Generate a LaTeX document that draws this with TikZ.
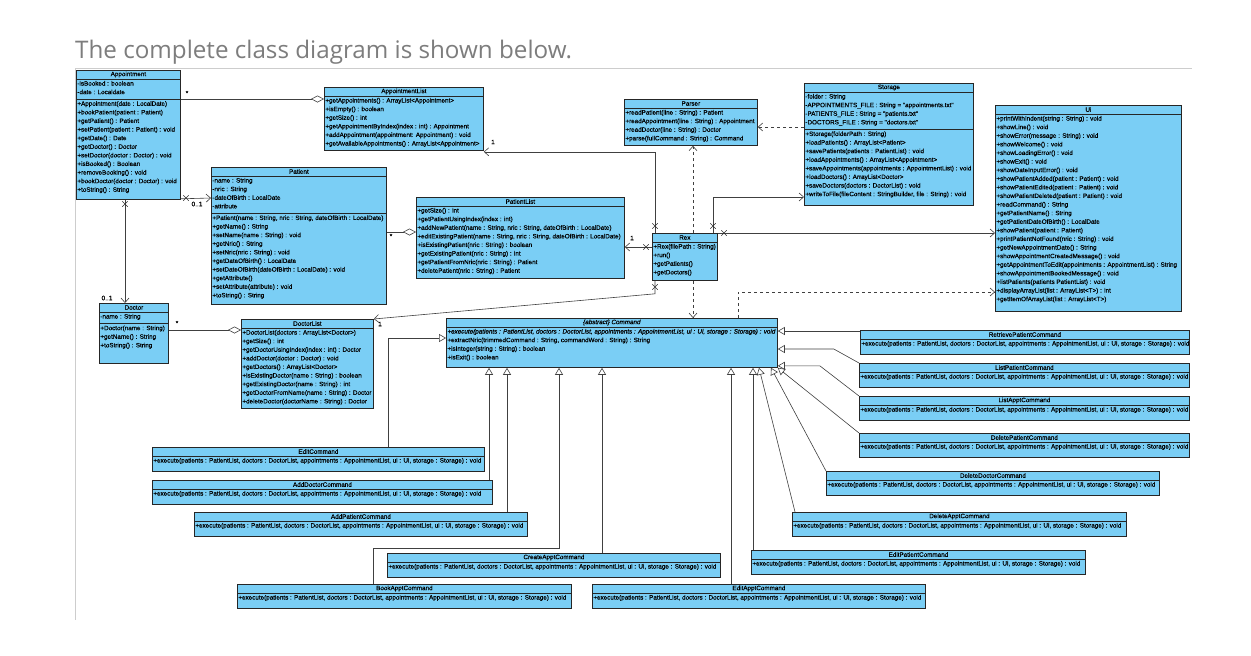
\documentclass[tikz,border=0pt]{standalone}
\usepackage{fontspec}
\setmainfont{Liberation Sans}
\newfontfamily\umlfont{Liberation Sans}[FakeBold=0.35]
\newfontfamily\headfont{Open Sans}
\usetikzlibrary{positioning, arrows.meta, shapes.misc}

\definecolor{classblue}{RGB}{122,206,245}
\definecolor{headgray}{RGB}{125,125,125}
\definecolor{rulegray}{RGB}{205,205,205}

\tikzset{
  classbox/.style={draw=black!85, fill=classblue, line width=0.8pt, anchor=north west, inner sep=0pt},
  classsep/.style={draw=black!85, line width=0.6pt},
  classname/.style={inner sep=0pt, font=\umlfont\fontsize{6.3}{8.5}\selectfont},
  members/.style={anchor=north west, align=left, inner xsep=1.2pt, inner ysep=1.8pt, font=\umlfont\fontsize{6.3}{8.6}\selectfont},
  link/.style={draw=black!75, line width=0.6pt},
  assoc/.style={link, -{Straight Barb[length=4.5pt, width=8pt]}},
  dep/.style={link, dashed, -{Straight Barb[length=4.5pt, width=8pt]}},
  aggr/.style={link, -{Diamond[open, length=13pt, width=7pt]}},
  inherit/.style={link, -{Triangle[open, length=7pt, width=8pt]}},
  navx/.style={cross out, draw=black!80, line width=0.5pt, minimum size=5pt, inner sep=0pt},
  mult/.style={inner sep=0pt, font=\umlfont\fontsize{6.5}{7}\selectfont},
  pagetitle/.style={anchor=base west, inner sep=0pt, text=headgray, font=\headfont\fontsize{24.2}{28}\selectfont},
  pagerule/.style={draw=rulegray, line width=0.8pt}
}

\newcommand{\umlclass}[9]{%
  \node[classbox, minimum width=#4pt, minimum height=#5pt] (#1) at (#2,#3) {};
  \node[classname] (#1-name) at ([yshift=-4.5pt]#1.north) {#6};
  \draw[classsep] ([yshift=-9pt]#1.north west) -- ([yshift=-9pt]#1.north east);
  \ifnum#7>0
    \node[members] (#1-attr) at ([yshift=-9pt]#1.north west) {#8};
    \draw[classsep] ([yshift={-(12+#7*8.6)*1pt}]#1.north west) -- ([yshift={-(12+#7*8.6)*1pt}]#1.north east);
    \node[members] (#1-ops) at ([yshift={-(12+#7*8.6)*1pt}]#1.north west) {#9};
  \else
    \node[members] (#1-ops) at ([yshift=-9pt]#1.north west) {#9};
  \fi
}
\newcommand{\execsig}{+execute(patients : PatientList, doctors : DoctorList, appointments : AppointmentList, ui : Ui, storage : Storage) : void}
\newcommand{\cmdclass}[5]{\umlclass{#1}{#2}{#3}{#4}{24}{#5}{0}{}{\execsig}}

\begin{document}
\begin{tikzpicture}[x=1pt, y=-1pt]
  \fill[white] (0,0) rectangle (1251,656);
  \useasboundingbox (0,0) rectangle (1251,656);
  \node[pagetitle] (heading) at (75,58) {The complete class diagram is shown below.};
  \draw[pagerule] (75,68) -- (1192,68);
  \draw[pagerule] (75,68) -- (75,620);

  \umlclass{appointment}{76}{70}{104}{129}{Appointment}{2}
    {-isBooked : boolean\\-date : Localdate}
    {+Appointment(date : LocalDate)\\+bookPatient(patient : Patient)\\+getPatient() : Patient\\+setPatient(patient : Patient) : void\\+getDate() : Date\\+getDoctor() : Doctor\\+setDoctor(doctor : Doctor) : void\\+isBooked() : Boolean\\+removeBooking() : void\\+bookDoctor(doctor : Doctor) : void\\+toString() : String}
  \umlclass{applist}{324}{87}{159}{63}{AppointmentList}{0}{}
    {+getAppointments() : ArrayList<Appointment>\\+isEmpty() : boolean\\+getSize() : int\\+getAppointmentByIndex(index : int) : Appointment\\+addAppointment(appointment: Appointment) : void\\+getAvailableAppointments() : ArrayList<Appointment>}
  \umlclass{patient}{211}{167}{175}{137}{Patient}{4}
    {-name : String\\-nric : String\\-dateOfBirth : LocalDate\\-attribute}
    {+Patient(name : String, nric : String, dateOfBirth : LocalDate)\\+getName() : String\\+setName(name : String) : void\\+getNric() : String\\+setNric(nric : String) : void\\+getDateOfBirth() : LocalDate\\+setDateOfBirth(dateOfBirth : LocalDate) : void\\+getAttribute()\\+setAttribute(attribute) : void\\+toString() : String}
  \umlclass{patientlist}{416}{197}{208}{81}{PatientList}{0}{}
    {+getSize() : int\\+getPatientUsingIndex(index : int)\\+addNewPatient(name : String, nric : String, dateOfBirth : LocalDate)\\+editExistingPatient(name : String, nric : String, dateOfBirth : LocalDate)\\+isExistingPatient(nric : String) : boolean\\+getExistingPatient(nric : String) : int\\+getPatientFromNric(nric : String) : Patient\\+deletePatient(nric : String) : Patient}
  \umlclass{parser}{624}{99}{133}{46}{Parser}{0}{}
    {+readPatient(line : String) : Patient\\+readAppointment(line : String) : Appointment\\+readDoctor(line : String) : Doctor\\+parse(fullCommand : String) : Command}
  \umlclass{rex}{652}{233}{65}{47}{Rex}{0}{}
    {+Rex(filePath : String)\\+run()\\+getPatients()\\+getDoctors()}
  \umlclass{storage}{804}{83}{169}{122}{Storage}{4}
    {-folder : String\\-APPOINTMENTS\_FILE : String = "appointments.txt"\\-PATIENTS\_FILE : String = "patients.txt"\\-DOCTORS\_FILE : String = "doctors.txt"}
    {+Storage(folderPath : String)\\+loadPatients() : ArrayList<Patient>\\+savePatients(patients : PatientList) : void\\+loadAppointments() : ArrayList<Appointment>\\+saveAppointments(appointments : AppointmentList) : void\\+loadDoctors() : ArrayList<Doctor>\\+saveDoctors(doctors : DoctorList) : void\\+writeToFile(fileContent : StringBuilder, file : String) : void}
  \umlclass{ui}{995}{105}{186}{206}{Ui}{0}{}
    {+printWithIndent(string : String) : void\\+showLine() : void\\+showError(message : String) : void\\+showWelcome() : void\\+showLoadingError() : void\\+showExit() : void\\+showDateInputError() : void\\+showPatientAdded(patient : Patient) : void\\+showPatientEdited(patient : Patient) : void\\+showPatientDeleted(patient : Patient) : void\\+readCommand() : String\\+getPatientName() : String\\+getPatientDateOfBirth() : LocalDate\\+showPatient(patient : Patient)\\+printPatientNotFound(nric : String) : void\\+getNewAppointmentDate() : String\\+showAppointmentCreatedMessage() : void\\+getAppointmentToEdit(appointments : AppointmentList) : String\\+showAppointmentBookedMessage() : void\\+listPatients(patients PatientList) : void\\+displayArrayList(list : ArrayList<T>) : int\\+getItemOfArrayList(list : ArrayList<T>)}
  \umlclass{doctor}{99}{303}{69}{60}{Doctor}{1}
    {-name : String}
    {+Doctor(name : String)\\+getName() : String\\+toString() : String}
  \umlclass{doctorlist}{241}{319}{132}{89}{DoctorList}{0}{}
    {+DoctorList(doctors : ArrayList<Doctor>)\\+getSize() : int\\+getDoctorUsingIndex(index : int) : Doctor\\+addDoctor(doctor : Doctor) : void\\+getDoctors() : ArrayList<Doctor>\\+isExistingDoctor(name : String) : boolean\\+getExistingDoctor(name : String) : int\\+getDoctorFromName(name : String) : Doctor\\+deleteDoctor(doctorName : String) : Doctor}
  \umlclass{command}{446}{318}{331}{49}{\textit{\{abstract\} Command}}{0}{}
    {\textit{\execsig}\\+extractNric(trimmedCommand : String, commandWord : String) : String\\+isInteger(string : String) : boolean\\+isExit() : boolean}

  \cmdclass{retrieve}{860}{330}{329}{RetrievePatientCommand}
  \cmdclass{listpatient}{859}{363}{330}{ListPatientCommand}
  \cmdclass{listappt}{859}{396}{330}{ListApptCommand}
  \cmdclass{deletepatient}{859}{433}{330}{DeletePatientCommand}
  \cmdclass{deletedoctor}{826}{471}{333}{DeleteDoctorCommand}
  \cmdclass{deleteappt}{792}{512}{334}{DeleteApptCommand}
  \cmdclass{editpatient}{751}{550}{334}{EditPatientCommand}
  \cmdclass{editcmd}{152}{447}{332}{EditCommand}
  \cmdclass{adddoctor}{152}{480}{340}{AddDoctorCommand}
  \cmdclass{addpatient}{194}{512}{333}{AddPatientCommand}
  \cmdclass{createappt}{387}{553}{333}{CreateApptCommand}
  \cmdclass{bookappt}{237}{584}{334}{BookApptCommand}
  \cmdclass{editappt}{592}{584}{333}{EditApptCommand}

  \draw[aggr] ([yshift=-29pt]appointment.north east) -- ([yshift=-12pt]applist.north west);
  \draw[assoc] ([yshift=1pt]appointment.south east) -- ([yshift=-31pt]patient.north west);
  \draw[assoc] ([xshift=49pt]appointment.south west) -- ([xshift=26pt]doctor.north west);
  \draw[aggr] ([yshift=-27pt]doctor.north east) -- ([yshift=-11pt]doctorlist.north west);
  \draw[aggr] ([yshift=-65pt]patient.north east) -- ([yshift=-35pt]patientlist.north west);
  \draw[assoc] ([xshift=3pt]rex.north west) |- ([yshift=-1pt]applist.south east);
  \draw[assoc] ([yshift=-14pt]rex.north west) -- ([yshift=-50pt]patientlist.north east);
  \draw[dep] ([xshift=41pt]rex.north west) -- ([xshift=69pt]parser.south west);
  \draw[assoc] ([xshift=61pt]rex.north west) |- ([yshift=-114pt]storage.north west);
  \draw[assoc] (rex.north east) -- ([yshift=-128pt]ui.north west);
  \draw[dep] ([yshift=-44pt]storage.north west) -- ([yshift=-28pt]parser.north east);
  \draw[assoc] ([xshift=3pt]rex.south west) -- ([xshift=3pt, yshift=-13pt]rex.south west) -- (doctorlist.north east);
  \draw[dep] ([xshift=41pt]rex.south west) -- ([xshift=247pt]command.north west);
  \draw[dep] ([xshift=292pt]command.north west) |- ([yshift=-187pt]ui.north west);

  \draw[inherit] ([xshift=236pt]editcmd.north west) |- ([yshift=-20pt]command.north west);
  \draw[inherit] ([xshift=337pt]adddoctor.north west) -- ([xshift=43pt]command.south west);
  \draw[inherit] ([xshift=313pt]addpatient.north west) -- ([xshift=61pt]command.south west);
  \draw[inherit] ([xshift=136pt]bookappt.north west) |- ([xshift=113pt, yshift=-180pt]command.south west) -- ([xshift=113pt]command.south west);
  \draw[inherit] ([xshift=215pt]createappt.north west) -- ([xshift=156pt]command.south west);
  \draw[inherit] ([xshift=139pt]editappt.north west) -- ([xshift=285pt]command.south west);
  \draw[inherit] ([xshift=2pt]editpatient.north west) -- ([xshift=307pt]command.south west);
  \draw[inherit] ([xshift=3pt]deleteappt.north west) -- ([xshift=313pt]command.south west);
  \draw[inherit] (deletedoctor.north west) -- ([xshift=325pt]command.south west);
  \draw[inherit] (deletepatient.north west) -- (command.south east);
  \draw[inherit] (listappt.north west) -- ([xshift=42pt, yshift=2pt]command.south east) -- ([yshift=2pt]command.south east);
  \draw[inherit] (listpatient.north west) -- ([xshift=56pt, yshift=-31pt]command.north east) -- ([yshift=-31pt]command.north east);
  \draw[inherit] ([yshift=-1pt]retrieve.north west) -- ([yshift=-13pt]command.north east);

  \node[navx] (x-app-pat) at (186,198) {};
  \node[navx] (x-app-doc) at (125,204) {};
  \node[navx] (x-rex-app) at (655,226) {};
  \node[navx] (x-rex-sto) at (713,226) {};
  \node[navx] (x-rex-ui) at (724,233) {};
  \node[navx] (x-rex-pat) at (646,247) {};
  \node[navx] (x-rex-doc) at (655,287) {};

  \node[mult] (m-app-list) at (187,93) {*};
  \node[mult] (m-app-pat) at (197,204) {0..1};
  \node[mult] (m-app-doc) at (107,298) {0..1};
  \node[mult] (m-doc-list) at (177,323) {*};
  \node[mult] (m-pat-list) at (391,236) {*};
  \node[mult] (m-rex-app) at (493,142) {1};
  \node[mult] (m-rex-pat) at (632,238) {1};
  \node[mult] (m-rex-doc) at (380,324) {1};
\end{tikzpicture}
\end{document}
